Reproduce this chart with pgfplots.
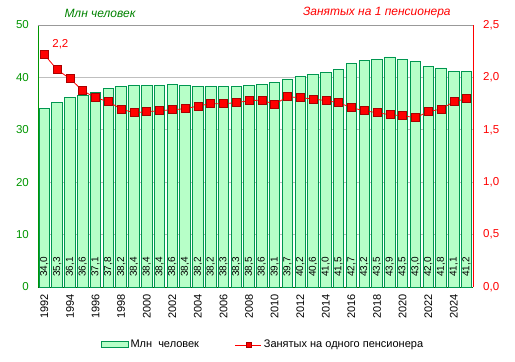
\documentclass[border=0pt]{standalone}
\usepackage{pgfplots}
\pgfplotsset{compat=1.18}
\usepackage{pgfplotstable}
\usepackage{fontspec}
\setmainfont{Liberation Sans}
\definecolor{barfill}{RGB}{183,255,200}
\definecolor{baredge}{RGB}{0,150,80}
\definecolor{lgreen}{RGB}{0,150,0}
\definecolor{tgreen}{RGB}{0,130,0}
\definecolor{dred}{RGB}{170,0,0}
\pgfplotstableread{
year emp ratio
1992 34.0 2.217
1993 35.3 2.073
1994 36.1 1.988
1995 36.6 1.873
1996 37.1 1.806
1997 37.8 1.768
1998 38.2 1.698
1999 38.4 1.663
2000 38.4 1.673
2001 38.4 1.682
2002 38.6 1.692
2003 38.4 1.701
2004 38.2 1.727
2005 38.2 1.749
2006 38.3 1.749
2007 38.3 1.759
2008 38.5 1.778
2009 38.6 1.784
2010 39.1 1.743
2011 39.7 1.816
2012 40.2 1.806
2013 40.6 1.794
2014 41.0 1.778
2015 41.5 1.759
2016 42.7 1.711
2017 43.2 1.682
2018 43.5 1.663
2019 43.9 1.644
2020 43.5 1.635
2021 43.0 1.615
2022 42.0 1.673
2023 41.8 1.698
2024 41.1 1.768
2025 41.2 1.797
}\data
\begin{document}
\begin{tikzpicture}
\path[use as bounding box] (-38pt,-75pt) rectangle (477pt,287pt);
\begin{axis}[at={(0pt,0pt)}, anchor=south west, scale only axis,
  width=435pt, height=262pt,
  xmin=1991.5, xmax=2025.5, ymin=0, ymax=50, ytick={0,10,...,50},
  xtick={1992,1994,...,2024},
  /pgf/number format/assume math mode=true,
  /pgf/number format/set thousands separator={},
  xticklabel style={rotate=90, anchor=east, inner xsep=7pt, font=\fontsize{11}{12}\selectfont},
  yticklabel style={lgreen, font=\fontsize{11.5}{12}\selectfont, inner xsep=9pt},
  axis x line*=bottom, axis y line*=left,
  x axis line style={draw=black!60!green, line width=0.8pt},
  y axis line style={draw=lgreen, line width=0.8pt},
  ymajorgrids, grid style={gray!50, line width=0.7pt},
  tick style={draw=none},
  clip=false,
]
\addplot[ybar, bar width=10.5pt, fill=barfill, draw=baredge, line width=0.9pt] table[x=year,y=emp]{\data};
\addplot[draw=none, mark=none, nodes near coords={\pgfmathprintnumber[fixed,fixed zerofill,precision=1,use comma]{\pgfplotspointmeta}},
  point meta=explicit,
  nodes near coords style={font=\fontsize{10}{10}\selectfont, black, rotate=90, anchor=west, inner ysep=0pt, inner xsep=10pt}]
  table[x=year, y expr=0, meta=emp]{\data};
\node[tgreen, font=\itshape\fontsize{12}{13}\selectfont] at (axis description cs:0.1425,1.046) {Млн человек};
\node[red, font=\itshape\fontsize{12}{13}\selectfont] at (axis description cs:0.779,1.046) {Занятых на 1 пенсионера};
\end{axis}
\begin{axis}[at={(0pt,0pt)}, anchor=south west, scale only axis,
  width=435pt, height=262pt,
  xmin=1991.5, xmax=2025.5, ymin=0, ymax=2.5, ytick={0,0.5,...,2.5},
  axis x line*=top, axis y line*=right, xtick=\empty,
  x axis line style={draw=gray!80, line width=0.7pt},
  y axis line style={draw=red, line width=0.8pt},
  /pgf/number format/assume math mode=true,
  yticklabel style={red, font=\fontsize{11.5}{12}\selectfont, inner xsep=10pt, /pgf/number format/.cd, fixed, fixed zerofill, precision=1, use comma},
  tick style={draw=none},
  legend style={at={(0.517,-0.221)}, anchor=center, draw=none, fill=none,
    font=\fontsize{11}{12}\selectfont, legend columns=2,
    /tikz/every even column/.append style={column sep=34pt}},
  legend cell align=left,
  clip=false,
]
\addlegendimage{legend image code/.code={\draw[fill=barfill, draw=baredge, line width=0.9pt] (0pt,-3pt) rectangle (27pt,3pt);}}
\addlegendentry{Млн\ \ человек}
\addlegendimage{legend image code/.code={\draw[red, line width=0.8pt] (0pt,0pt) -- (26pt,0pt); \filldraw[fill=red, draw=dred, line width=0.5pt] (10.5pt,-2.5pt) rectangle (15.5pt,2.5pt);}}
\addlegendentry{Занятых на одного пенсионера}
\addplot[red, line width=0.8pt, mark=square*, mark options={fill=red, draw=dred, line width=0.6pt}, mark size=4pt, forget plot] table[x=year,y=ratio]{\data};
\node[red, font=\fontsize{11.5}{12}\selectfont] at (axis cs:1992,2.217) [xshift=16pt, yshift=10pt] {2,2};
\end{axis}
\end{tikzpicture}
\end{document}
